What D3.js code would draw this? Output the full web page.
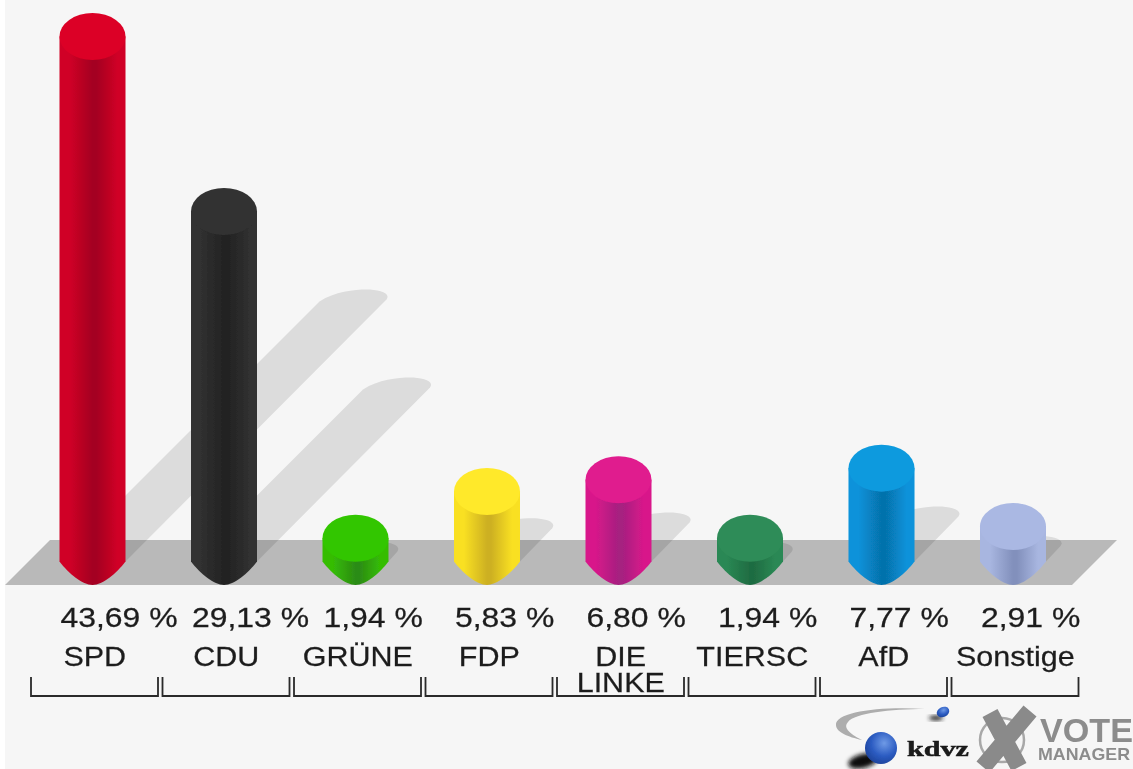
<!DOCTYPE html>
<html lang="de">
<head>
<meta charset="utf-8">
<title>Wahlergebnis</title>
<script src="https://cdn.jsdelivr.net/npm/d3@7/dist/d3.min.js"></script>
<style>
html,body{margin:0;padding:0;background:#fff;overflow:hidden}
svg{display:block}
text{font-family:"Liberation Sans",Arial,sans-serif;fill:#1c1c1c}
</style>
</head>
<body>
<div id="chart"></div>
<script>
const parties = ["SPD","CDU","GRÜNE","FDP","DIE LINKE","TIERSC","AfD","Sonstige"];
const values = [43.69,29.13,1.94,5.83,6.80,1.94,7.77,2.91];
const valueLabels = ["43,69 %","29,13 %","1,94 %","5,83 %","6,80 %","1,94 %","7,77 %","2,91 %"];
const capColors = ["#dc0026","#323232","#33c600","#ffe92a","#e01a8e","#2f8c58","#0a9ade","#aab8e3"];
const sideColors = ["#d00026","#303030","#35bd05","#f9e024","#d8188a","#2a8854","#0892da","#a8b6e0"];
const darkColors = ["#a40020","#232323","#2c8c14","#cdb022","#a62080","#1f6c42","#0672ac","#8290bc"];

const W = 1133, H = 769;
const svg = d3.select("#chart").append("svg").attr("width",W).attr("height",H);
const defs = svg.append("defs");
defs.append("filter").attr("id","soft").attr("x","-5%").attr("y","-5%").attr("width","110%").attr("height","110%")
  .append("feGaussianBlur").attr("stdDeviation",0.6);
defs.append("filter").attr("id","softer").attr("x","-30%").attr("y","-30%").attr("width","160%").attr("height","160%")
  .append("feGaussianBlur").attr("stdDeviation",2.2);

values.forEach((v,i)=>{
  const g = defs.append("linearGradient").attr("id","side"+i).attr("x1",0).attr("x2",1).attr("y1",0).attr("y2",0);
  [[0,sideColors[i]],[0.15,sideColors[i]],[0.5,darkColors[i]],[0.56,darkColors[i]],[0.88,sideColors[i]],[1,sideColors[i]]]
    .forEach(([o,c])=>g.append("stop").attr("offset",o).attr("stop-color",c));
});

svg.append("rect").attr("x",5).attr("y",0).attr("width",W-5).attr("height",H).attr("fill","#f6f6f6");
const root = svg.append("g").attr("filter","url(#soft)");

const band = d3.scaleBand().domain(parties).range([29,1081]);
const cx = p => band(p) + band.bandwidth()/2 - 2.25;
const yTop = d3.scaleLinear().domain([0,43.69]).range([538,13]);
const shadowLen = d3.scaleLinear().domain([0,43.69]).range([-4,260]);
const halfW = 33, capRy = 23.5, bottomCy = 561.5, bottomY = 585;

const rows = parties.map((p,i)=>({p,v:values[i],i,label:valueLabels[i]}));

// floor
root.append("path").attr("d","M5,585L50,540L1117,540L1072,585Z").attr("fill","#b9b9b9");

// shadows
root.append("g").selectAll("path").data(rows).join("path")
  .attr("fill","#000").attr("fill-opacity",0.105)
  .attr("d",d=>{
    const c = cx(d.p), s = shadowLen(d.v);
    const lx = c-halfW+s, ly = bottomCy-s;
    return `M${c-halfW},${bottomCy}L${lx},${ly}`+
      `C${lx+15},${ly-10} ${lx+35},${ly-12} ${lx+47},${ly-12}`+
      `C${lx+58},${ly-12} ${lx+72},${ly-9} ${lx+67},${ly-2}`+
      `L${c+halfW},${bottomCy}Z`;
  });

// cylinders
const bars = root.append("g").selectAll("g").data(rows).join("g");
bars.append("path").attr("fill",d=>`url(#side${d.i})`)
  .attr("d",d=>{
    const c = cx(d.p), top = yTop(d.v)+capRy;
    return `M${c-halfW},${top}L${c-halfW},${bottomCy}`+
      `C${c-24},${bottomCy+12} ${c-10},${bottomY} ${c},${bottomY}`+
      `C${c+10},${bottomY} ${c+24},${bottomCy+12} ${c+halfW},${bottomCy}`+
      `L${c+halfW},${top}Z`;
  });
bars.append("ellipse").attr("cx",d=>cx(d.p)).attr("cy",d=>yTop(d.v)+capRy)
  .attr("rx",halfW).attr("ry",capRy).attr("fill",d=>capColors[d.i]);

// value labels (the reference's type is stretched horizontally)
root.append("g").selectAll("text").data(rows).join("text")
  .attr("transform",d=>`translate(${cx(d.p)-halfW+1},627) scale(1.14,1)`)
  .attr("font-size",28).attr("stroke","#1c1c1c").attr("stroke-width",0.25)
  .text(d=>d.label);

// party labels
const names = root.append("g").selectAll("text").data(rows).join("text")
  .attr("text-anchor","middle").attr("font-size",28).attr("stroke","#1c1c1c").attr("stroke-width",0.25)
  .attr("transform",d=>`translate(${band(d.p)+band.bandwidth()/2},666) scale(1.09,1)`);
names.each(function(d){
  const parts = d.p.split(" ");
  d3.select(this).selectAll("tspan").data(parts).join("tspan")
    .attr("x",0)
    .attr("dy",(t,k)=>k?26:0)
    .text(t=>t);
});

// brackets
root.append("g").selectAll("path").data(rows).join("path")
  .attr("fill","none").attr("stroke","#2a2a2a").attr("stroke-width",1.8)
  .attr("d",d=>{
    const a = band(d.p)+2, b = band(d.p)+band.bandwidth()-2.5;
    return `M${a},677V696H${b}V677`;
  });

// logos
const logo = root.append("g");
logo.append("path").attr("fill","#adadad")
  .attr("d","M925,709C880,706 835,712 836,725C836,732 848,737 862,740C848,733 843,727 848,722C855,713 890,709 925,709Z");
logo.append("ellipse").attr("cx",863).attr("cy",761).attr("rx",15).attr("ry",7)
  .attr("transform","rotate(-14 863 761)").attr("fill","#111").attr("filter","url(#softer)");
const ball = defs.append("radialGradient").attr("id","ball").attr("cx","0.6").attr("cy","0.35").attr("r","0.8");
[[0,"#6f9ae6"],[0.5,"#2c5cc2"],[1,"#173a8c"]].forEach(([o,c])=>ball.append("stop").attr("offset",o).attr("stop-color",c));
logo.append("circle").attr("cx",881).attr("cy",748).attr("r",16).attr("fill","url(#ball)");
logo.append("ellipse").attr("cx",936).attr("cy",718).attr("rx",7).attr("ry",2.5).attr("fill","#222").attr("filter","url(#softer)");
logo.append("ellipse").attr("cx",943).attr("cy",712).attr("rx",6.5).attr("ry",5).attr("fill","url(#ball)")
  .attr("transform","rotate(-25 943 712)");
logo.append("text").attr("x",907).attr("y",756).attr("textLength",62).attr("lengthAdjust","spacingAndGlyphs")
  .style("font-family","'Liberation Serif',serif").style("font-weight","bold").style("fill","#1a1a1a")
  .attr("stroke","#1a1a1a").attr("stroke-width",0.5).attr("font-size",22).text("kdvz");
logo.append("circle").attr("cx",1002).attr("cy",740).attr("r",22).attr("fill","none").attr("stroke","#a8a8a8").attr("stroke-width",2.5);
logo.append("path").attr("fill","none").attr("stroke","#8a8a8a").attr("stroke-width",17)
  .attr("d","M990,713L1019,767M1030,711L983,767");
logo.append("text").attr("x",1040).attr("y",742).attr("textLength",93).attr("lengthAdjust","spacingAndGlyphs")
  .style("font-weight","bold").style("fill","#8c8c8c").attr("font-size",33).text("VOTE");
logo.append("text").attr("x",1038).attr("y",760).attr("textLength",92).attr("lengthAdjust","spacingAndGlyphs")
  .style("font-weight","bold").style("fill","#8c8c8c").attr("font-size",17).text("MANAGER");
</script>
</body>
</html>
